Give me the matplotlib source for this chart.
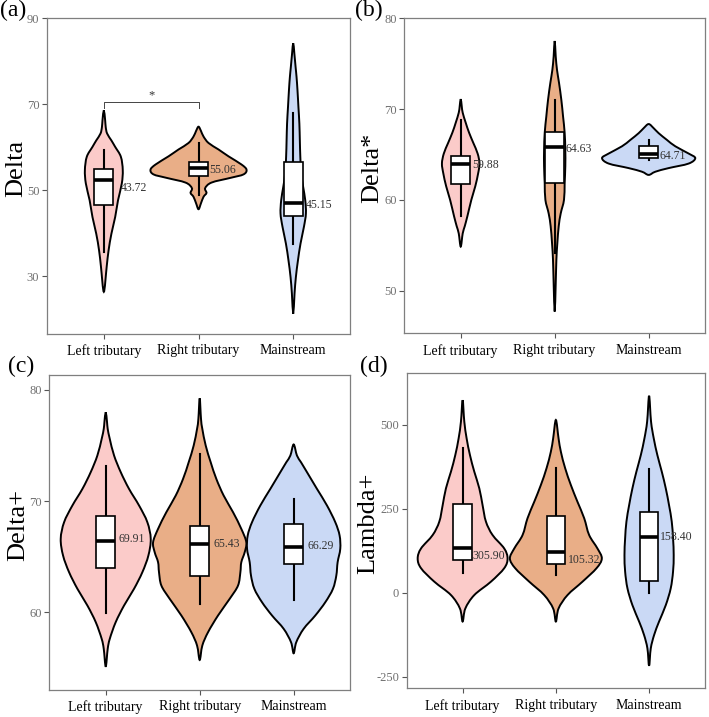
import numpy as np
import matplotlib
matplotlib.use("Agg")
import matplotlib.pyplot as plt
from matplotlib.path import Path
from matplotlib.patches import PathPatch, Rectangle

plt.rcParams['font.family'] = 'Liberation Serif'

groups = ["Left tributary", "Right tributary", "Mainstream"]
fills = ['#FBCBC9', '#E9AE87', '#CAD9F5']

# violin outlines: y levels and half widths (category units)
# box stats: whisker low, q1, median, q3, whisker high
delta_y = [[26.4, 32.2, 36.0, 39.9, 43.8, 47.7, 51.6, 54.7, 57.8, 60.1, 61.6, 63.2, 64.7, 66.3, 68.6],
           [45.6, 47.0, 48.5, 49.4, 50.5, 51.8, 52.9, 53.7, 54.8, 56.0, 57.9, 59.5, 61.0, 62.5, 63.8, 64.8],
           [21.3, 26.0, 29.8, 33.7, 37.6, 41.5, 44.6, 47.7, 50.8, 53.9, 57.8, 61.6, 65.5, 69.4, 73.3, 76.4, 78.7, 81.8, 84.2]]
delta_w = [[0, .03, .05, .08, .12, .15, .19, .20, .18, .12, .08, .035, .02, .014, 0],
           [0, .026, .053, .084, .07, .137, .338, .475, .507, .454, .317, .211, .106, .053, .026, 0],
           [0, .014, .028, .05, .077, .113, .134, .127, .105, .085, .075, .07, .065, .055, .045, .035, .025, .012, 0]]
delta_box = [[35.7, 46.7, 52.3, 55.0, 59.3],
             [48.8, 53.3, 55.2, 56.6, 60.9],
             [37.6, 44.1, 47.1, 56.7, 68.0]]
delta_txt = ["43.72", "55.06", "45.15"]
delta_txt_y = [50.6, 54.8, 46.7]

dstar_y = [[54.85, 56.3, 57.1, 58.2, 60.0, 61.5, 62.9, 64.0, 65.1, 66.25, 67.4, 68.5, 69.6, 70.3, 71.1],
           [47.7, 50.8, 53.4, 55.2, 57.1, 58.5, 60.0, 61.8, 63.7, 65.5, 67.4, 69.2, 71.0, 72.9, 74.3, 75.8, 77.5],
           [62.75, 63.1, 63.5, 64.0, 64.6, 65.1, 65.9, 66.6, 67.35, 67.9, 68.35]]
dstar_w = [[0, .021, .043, .071, .113, .155, .185, .2, .18, .135, .089, .053, .021, .011, 0],
           [0, .011, .018, .028, .043, .064, .099, .106, .113, .113, .106, .089, .071, .046, .025, .011, 0],
           [0, .071, .213, .426, .496, .426, .284, .195, .106, .053, 0]]
dstar_box = [[58.2, 61.8, 63.9, 64.85, 68.75],
             [54.2, 61.9, 65.8, 67.5, 71.0],
             [64.4, 64.6, 65.1, 65.9, 66.6]]
dstar_txt = ["59.88", "64.63", "64.71"]
dstar_txt_y = [63.8, 65.6, 64.8]

dplus_y = [[55.1, 56.7, 57.6, 59.1, 60.6, 62.1, 63.6, 65.1, 66.6, 68.1, 69.6, 71.1, 72.6, 74.1, 75.6, 76.5, 77.1, 78.0],
           [55.7, 57.0, 58.2, 59.7, 61.2, 62.4, 63.6, 64.5, 65.4, 66.3, 67.5, 69.0, 70.5, 72.0, 73.5, 75.0, 76.5, 77.4, 79.25],
           [56.3, 57.3, 58.5, 59.7, 60.9, 62.1, 63.3, 64.5, 65.7, 66.9, 68.1, 69.6, 71.1, 72.6, 73.5, 74.1, 75.1]]
dplus_w = [[0, .021, .043, .106, .195, .301, .39, .454, .479, .443, .355, .248, .16, .089, .043, .021, .014, 0],
           [0, .028, .089, .195, .319, .408, .433, .443, .479, .496, .443, .355, .255, .177, .117, .064, .028, .014, 0],
           [0, .028, .106, .23, .337, .418, .454, .468, .496, .489, .443, .355, .248, .142, .078, .035, 0]]
dplus_box = [[59.9, 64.0, 66.45, 68.7, 73.2],
             [60.7, 63.3, 66.1, 67.8, 74.2],
             [61.1, 64.3, 65.9, 67.9, 70.2]]
dplus_txt = ["69.91", "65.43", "66.29"]
dplus_txt_y = [66.6, 66.1, 66.0]

lam_y = [[-86, -47, -7, 33, 73, 102, 132, 172, 212, 261, 311, 361, 410, 460, 510, 574],
         [-86, -47, -7, 33, 73, 102, 132, 172, 222, 271, 321, 371, 420, 460, 515],
         [-218, -166, -126, -86, -37, 13, 63, 112, 162, 212, 261, 311, 361, 410, 460, 510, 587]]
lam_w = [[0, .029, .125, .304, .446, .482, .446, .321, .25, .214, .179, .125, .079, .043, .018, 0],
         [0, .029, .125, .286, .436, .493, .446, .357, .304, .232, .161, .1, .054, .029, 0],
         [0, .018, .054, .107, .179, .232, .257, .264, .257, .243, .214, .179, .136, .089, .05, .021, 0]]
lam_box = [[58, 98, 132, 263, 430],
           [53, 85, 122, 229, 372],
           [0, 35, 166, 241, 369]]
lam_txt = ["305.90", "105.32", "158.40"]
lam_txt_y = [110, 97, 167]


def smooth_closed(px, py):
    # closed Catmull-Rom curve through the outline points, drawn as Bezier segments
    pts = np.column_stack([px, py])
    n = len(pts)
    verts = [pts[0]]
    codes = [Path.MOVETO]
    for i in range(n):
        p0, p1, p2, p3 = pts[i - 1], pts[i], pts[(i + 1) % n], pts[(i + 2) % n]
        verts += [p1 + (p2 - p0) / 6, p2 - (p3 - p1) / 6, p2]
        codes += [Path.CURVE4] * 3
    verts.append(pts[0])
    codes.append(Path.CLOSEPOLY)
    return Path(verts, codes)


def draw_violin(ax, pos, ys, ws, color):
    ys = np.asarray(ys, float)
    ws = np.asarray(ws, float)
    px = np.concatenate([pos + ws, (pos - ws)[-2:0:-1]])
    py = np.concatenate([ys, ys[-2:0:-1]])
    ax.add_patch(PathPatch(smooth_closed(px, py), fc=color, ec='black', lw=1.4, zorder=2))


def draw_box(ax, pos, st):
    lo, q1, med, q3, hi = st
    ax.plot([pos, pos], [lo, q1], color='black', lw=1.5, zorder=3)
    ax.plot([pos, pos], [q3, hi], color='black', lw=1.5, zorder=3)
    ax.add_patch(Rectangle((pos - 0.1, q1), 0.2, q3 - q1, fc='white', ec='black', lw=1.2, zorder=4))
    ax.plot([pos - 0.1, pos + 0.1], [med, med], color='black', lw=2.6, zorder=5, solid_capstyle='butt')


def panel(rect, vy, vw, boxes, txt, txt_y, txt_dx, ylim, yticks, ylabel, labx, letter, letpos):
    ax = fig.add_axes(rect)
    for i in range(3):
        draw_violin(ax, i + 1, vy[i], vw[i], fills[i])
        draw_box(ax, i + 1, boxes[i])
        ax.text(i + 1 + txt_dx[i], txt_y[i], txt[i], fontsize=8.5, color='#333333',
                ha='left', va='center', zorder=6)
    ax.set_xlim(0.4, 3.6)
    ax.set_ylim(*ylim)
    ax.set_xticks([1, 2, 3])
    ax.set_xticklabels(groups, fontsize=10, color='black')
    ax.set_yticks(yticks)
    ax.set_yticklabels([str(t) for t in yticks], fontsize=9, color='#707070')
    ax.tick_params(length=3.5, width=0.8, color='#555555', pad=2)
    ax.tick_params(axis='x', pad=4)
    for s in ax.spines.values():
        s.set_color('#7f7f7f')
        s.set_linewidth(0.9)
    ax.set_ylabel(ylabel, fontsize=19)
    ax.yaxis.set_label_coords(labx, 0.525)
    fig.text(letpos[0], letpos[1], letter, fontsize=17, ha='left', va='top')
    return ax


fig = plt.figure(figsize=(7.09, 7.17), dpi=100)

ax_a = panel([0.0663, 0.5342, 0.4274, 0.4403], delta_y, delta_w, delta_box, delta_txt, delta_txt_y,
             (0.18, 0.116, 0.134), (16.6, 90), [30, 50, 70, 90], "Delta", -0.064, "(a)", (0.0, 1.0))
# significance bracket between the two tributaries
ax_a.plot([1, 1, 2, 2], [69.2, 70.5, 70.5, 69.2], color='#444444', lw=0.7, zorder=6)
ax_a.text(1.5, 70.6, "*", fontsize=9, ha='center', va='bottom', color='#333333')

panel([0.5703, 0.5351, 0.4241, 0.4394], dstar_y, dstar_w, dstar_box, dstar_txt, dstar_txt_y,
      (0.12, 0.12, 0.113), (45.3, 80), [50, 60, 70, 80], "Delta*", -0.07, "(b)", (0.5007, 1.0))

panel([0.0696, 0.0377, 0.4241, 0.4393], dplus_y, dplus_w, dplus_box, dplus_txt, dplus_txt_y,
      (0.138, 0.142, 0.152), (53.0, 81.35), [60, 70, 80], "Delta+", -0.068, "(c)", (0.011, 0.503))

panel([0.5736, 0.0400, 0.4208, 0.4393], lam_y, lam_w, lam_box, lam_txt, lam_txt_y,
      (0.107, 0.13, 0.114), (-285, 654), [-250, 0, 250, 500], "Lambda+", -0.092, "(d)", (0.508, 0.503))

fig.savefig("out.png", dpi=100)
